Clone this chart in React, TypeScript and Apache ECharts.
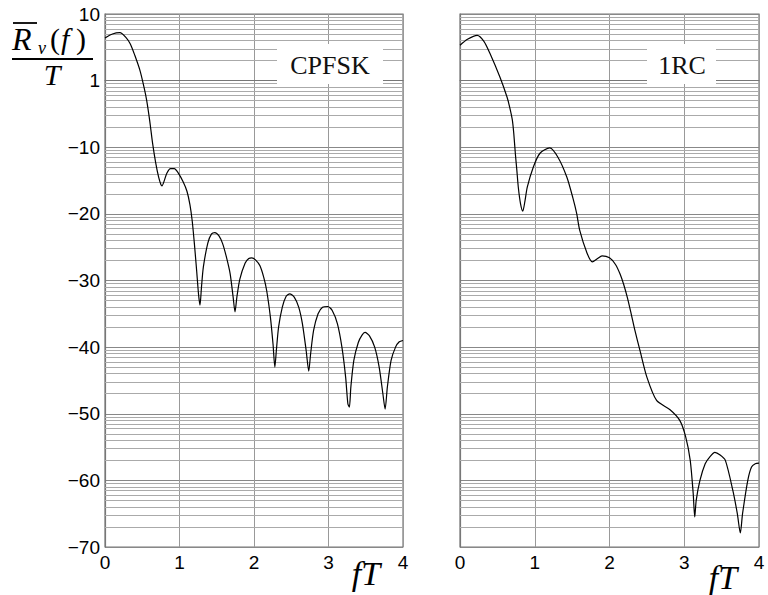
import React, { useEffect, useRef } from "react";
import * as echarts from "echarts";

// CPFSK spectrum (fT, dB)
const cpfskF = [0.0, 0.1, 0.2, 0.28, 0.34, 0.4, 0.47, 0.53, 0.56, 0.6, 0.64, 0.68, 0.72, 0.75, 0.765, 0.79, 0.83, 0.88, 0.93, 0.98, 1.05, 1.1, 1.14, 1.17, 1.2, 1.23, 1.255, 1.275, 1.295, 1.32, 1.38, 1.43, 1.475, 1.53, 1.58, 1.63, 1.68, 1.72, 1.745, 1.77, 1.81, 1.88, 1.93, 1.97, 2.02, 2.08, 2.13, 2.17, 2.22, 2.255, 2.28, 2.3, 2.33, 2.38, 2.43, 2.48, 2.54, 2.6, 2.65, 2.7, 2.735, 2.76, 2.8, 2.86, 2.92, 2.99, 3.05, 3.12, 3.18, 3.23, 3.26, 3.28, 3.3, 3.34, 3.4, 3.45, 3.49, 3.55, 3.62, 3.68, 3.73, 3.76, 3.79, 3.84, 3.9, 3.95, 4.0];
const cpfskDb = [6.4, 7.0, 7.2, 6.5, 5.5, 3.8, 1.5, -1.3, -3.0, -6.0, -9.5, -12.3, -14.5, -15.6, -15.8, -15.2, -13.9, -13.2, -13.2, -13.8, -15.2, -16.6, -18.6, -21, -24.5, -28.5, -32, -33.7, -31, -28, -24.4, -23.0, -22.8, -23.3, -24.5, -26.5, -29, -32.5, -34.7, -32.5, -29.8, -27.4, -26.7, -26.6, -26.9, -27.8, -29.5, -31.5, -35.5, -39.5, -43.0, -40.5, -37, -34, -32.4, -32, -32.5, -34, -36.5, -40.5, -43.6, -41, -37.5, -35, -34, -33.9, -34.5, -36.5, -40, -44.5, -48.5, -49.0, -46, -42, -39.3, -38.2, -37.8, -38.3, -40, -43, -47, -49.3, -46, -42, -40, -39.2, -39.0];

// 1RC spectrum (fT, dB)
const rcF = [0.0, 0.1, 0.23, 0.32, 0.4, 0.535, 0.63, 0.665, 0.7, 0.72, 0.74, 0.76, 0.78, 0.81, 0.84, 0.87, 0.9, 0.98, 1.07, 1.2, 1.31, 1.43, 1.51, 1.56, 1.6, 1.7, 1.77, 1.84, 1.9, 2.0, 2.08, 2.14, 2.19, 2.24, 2.29, 2.34, 2.41, 2.5, 2.63, 2.81, 2.94, 3.02, 3.08, 3.12, 3.14, 3.16, 3.21, 3.28, 3.34, 3.41, 3.48, 3.55, 3.65, 3.71, 3.75, 3.78, 3.85, 3.9, 3.95, 4.0];
const rcDb = [5.3, 6.2, 6.8, 5.9, 4.1, 0.5, -2.5, -4.0, -5.9, -8.0, -10.9, -13.4, -16, -18.5, -19.6, -18.0, -16, -13, -10.9, -10.1, -11.5, -14.5, -17.6, -19.9, -22.4, -25.9, -27.2, -26.7, -26.3, -26.6, -27.6, -29.0, -30.6, -32.6, -35.0, -37.5, -40.6, -44.5, -48, -49.4, -51, -53.5, -57, -62, -65.5, -63, -60, -57.5, -56.5, -55.8, -56.2, -57, -61.5, -65, -67.9, -65, -60, -58, -57.5, -57.4];

const xTicks = [0, 1, 2, 3, 4];
const yTickLabels: Record<string, string> = {
  "10": "10", "0": "1", "-10": "\u221210", "-20": "\u221220", "-30": "\u221230",
  "-40": "\u221240", "-50": "\u221250", "-60": "\u221260", "-70": "\u221270",
};
const panelLabels = ["CPFSK", "1RC"];

// log-style minor grid lines within each 10 dB decade
const decadeTops = [10, 0, -10, -20, -30, -40, -50, -60];
const minorGrid: number[] = [];
decadeTops.forEach((t) => {
  for (let k = 2; k <= 9; k++) minorGrid.push(t - 10 + 10 * Math.log10(k));
});

const sans = "'Liberation Sans', Arial, sans-serif";
const serif = "'Liberation Serif', 'DejaVu Serif', serif";

export default function App() {
  const ref = useRef<HTMLDivElement>(null);
  useEffect(() => {
    if (!ref.current) return;
    const chart = echarts.init(ref.current, undefined, { renderer: "svg" });
    const mkX = (i: number) => ({
      type: "value" as const,
      gridIndex: i,
      min: 0,
      max: 4,
      interval: 1,
      axisLine: { show: true, lineStyle: { color: "#777", width: 1.2 } },
      axisTick: { show: false },
      splitLine: { show: true, lineStyle: { color: "#999", width: 1 } },
      axisLabel: {
        show: true,
        fontSize: 19,
        color: "#000",
        fontFamily: sans,
        margin: 6,
        formatter: (v: number) => (xTicks.includes(v) ? String(v) : ""),
      },
    });
    const mkY = (i: number) => ({
      type: "value" as const,
      gridIndex: i,
      min: -70,
      max: 10,
      interval: 10,
      axisLine: { show: true, lineStyle: { color: "#777", width: 1.2 } },
      axisTick: { show: false },
      splitLine: { show: true, lineStyle: { color: "#888", width: 1 } },
      axisLabel: {
        show: i === 0,
        fontSize: 19,
        color: "#000",
        fontFamily: sans,
        margin: 5,
        formatter: (v: number) => yTickLabels[String(v)] ?? "",
      },
    });
    const markLine = {
      silent: true,
      symbol: "none",
      label: { show: false },
      lineStyle: { color: "#aaa", width: 1, type: "solid" as const },
      data: minorGrid.map((v) => ({ yAxis: v })),
    };
    chart.setOption({
      animation: false,
      backgroundColor: "#fff",
      grid: [
        { left: 105, top: 14, width: 298, height: 533, show: true, borderColor: "#777", borderWidth: 1.2 },
        { left: 460, top: 14, width: 299, height: 533, show: true, borderColor: "#777", borderWidth: 1.2 },
      ],
      xAxis: [mkX(0), mkX(1)],
      yAxis: [mkY(0), mkY(1)],
      series: [
        {
          type: "line",
          xAxisIndex: 0,
          yAxisIndex: 0,
          data: cpfskF.map((f, i) => [f, cpfskDb[i]]),
          showSymbol: false,
          smooth: 0.25,
          lineStyle: { color: "#000", width: 1.2 },
          markLine,
          z: 5,
        },
        {
          type: "line",
          xAxisIndex: 1,
          yAxisIndex: 1,
          data: rcF.map((f, i) => [f, rcDb[i]]),
          showSymbol: false,
          smooth: 0.25,
          lineStyle: { color: "#000", width: 1.2 },
          markLine,
          z: 5,
        },
      ],
      graphic: [
        // panel labels
        { type: "rect", shape: { x: 277, y: 44, width: 106, height: 40 }, style: { fill: "#fff" }, z: 50 },
        { type: "text", x: 330, y: 65, style: { text: panelLabels[0], font: `26px ${serif}`, fill: "#111", align: "center", verticalAlign: "middle" }, z: 51 },
        { type: "rect", shape: { x: 647, y: 44, width: 69, height: 40 }, style: { fill: "#fff" }, z: 50 },
        { type: "text", x: 682, y: 65, style: { text: panelLabels[1], font: `26px ${serif}`, fill: "#111", align: "center", verticalAlign: "middle" }, z: 51 },
        // fT axis labels
        { type: "text", x: 366, y: 573, style: { text: "fT", font: `italic 34px ${serif}`, fill: "#000", align: "center", verticalAlign: "middle" }, z: 51 },
        { type: "text", x: 723, y: 577, style: { text: "fT", font: `italic 34px ${serif}`, fill: "#000", align: "center", verticalAlign: "middle" }, z: 51 },
        // y title: overline R_v(f) / T
        { type: "text", x: 12, y: 39, style: { text: "R", font: `italic 32px ${serif}`, fill: "#000", align: "left", verticalAlign: "middle" }, z: 51 },
        { type: "line", shape: { x1: 13, y1: 23, x2: 37, y2: 23 }, style: { stroke: "#000", lineWidth: 1.8 }, z: 51 },
        { type: "text", x: 38, y: 48, style: { text: "v", font: `italic 18px ${serif}`, fill: "#000", align: "left", verticalAlign: "middle" }, z: 51 },
        { type: "text", x: 50, y: 38, style: { text: "(", font: `30px ${serif}`, fill: "#000", align: "left", verticalAlign: "middle" }, z: 51 },
        { type: "text", x: 61, y: 38, style: { text: "f", font: `italic 30px ${serif}`, fill: "#000", align: "left", verticalAlign: "middle" }, z: 51 },
        { type: "text", x: 76, y: 38, style: { text: ")", font: `30px ${serif}`, fill: "#000", align: "left", verticalAlign: "middle" }, z: 51 },
        { type: "line", shape: { x1: 12, y1: 59, x2: 93, y2: 59 }, style: { stroke: "#000", lineWidth: 1.8 }, z: 51 },
        { type: "text", x: 52, y: 74, style: { text: "T", font: `italic 30px ${serif}`, fill: "#000", align: "center", verticalAlign: "middle" }, z: 51 },
      ],
    });
    return () => chart.dispose();
  }, []);
  return <div ref={ref} style={{ position: "absolute", left: 0, top: 0, width: 768, height: 595 }} />;
}
